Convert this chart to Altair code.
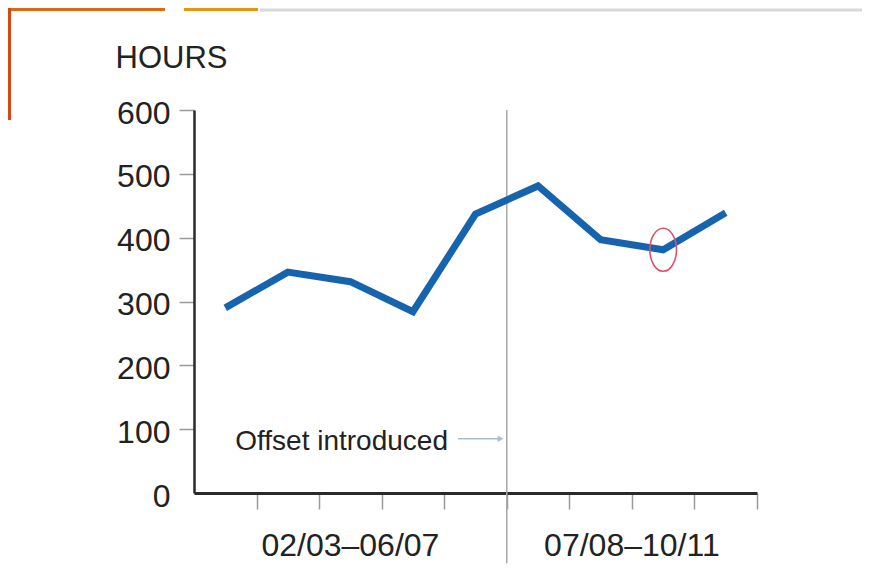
import altair as alt
import pandas as pd

# ---- data ----
years = ["02/03", "03/04", "04/05", "05/06", "06/07", "07/08", "08/09", "09/10", "10/11"]
hours = [290, 346, 331, 284, 437, 481, 397, 381, 439]
y_ticks = [0, 100, 200, 300, 400, 500, 600]
x_tick_positions = [1, 2, 3, 4, 5, 6, 7, 8, 9]
group_labels = ["02/03\u201306/07", "07/08\u201310/11"]
group_start = [0, 5]
group_end = [5, 9]
divider_at = [5]
divider_top = [600]
divider_bottom = [-110]
highlight_year = "09/10"
annotation_text = ["Offset introduced"]
annotation_x = [4.06]
annotation_y = [67]
arrow_y = [85]
arrow_start = [4.22]
arrow_end = [4.9]
group_label_y = [-99]

df = pd.DataFrame({"year": years, "hours": hours, "idx": list(range(len(years)))})
df_hl = df[df["year"] == highlight_year]
df_div = pd.DataFrame({"x": divider_at, "top": divider_top, "bottom": divider_bottom})
df_ann = pd.DataFrame({"text": annotation_text, "x": annotation_x, "y": annotation_y,
                       "ay": arrow_y, "x0": arrow_start, "x1": arrow_end})
df_grp = pd.DataFrame({"label": group_labels, "s": group_start, "e": group_end,
                       "y": group_label_y * 2})

BLUE = "#1764ae"
DARK = "#2a2a2a"
TICK = "#9a9a9a"
FONT = "Liberation Sans"

xscale = alt.Scale(domain=[0, 9], nice=False, zero=False)
yscale = alt.Scale(domain=[0, 600], nice=False)

x_axis = alt.Axis(values=x_tick_positions, labels=False, title=None, grid=False,
                  domainColor=DARK, domainWidth=3, tickColor=TICK, tickWidth=1.5,
                  tickSize=16)
y_axis = alt.Axis(values=y_ticks, title="HOURS", titleAngle=0, titleAlign="left",
                  titleBaseline="alphabetic", titleX=-79, titleY=-43,
                  titleFontSize=31, titleFontWeight="normal", titleFont=FONT,
                  titleColor="#222222", labelFont=FONT, labelFontSize=32,
                  labelColor="#222222", labelPadding=9, labelOffset=3, tickSize=15,
                  tickColor=TICK, tickWidth=1.5,
                  tickOpacity={"condition": {"test": "datum.value === 0", "value": 0}, "value": 1},
                  domainColor=DARK, domainWidth=2.5, grid=False)

base = alt.Chart(df).transform_calculate(pos="datum.idx + 0.5")

line = base.mark_line(color=BLUE, strokeWidth=7, strokeJoin="miter", strokeCap="butt").encode(
    x=alt.X("pos:Q", scale=xscale, axis=x_axis),
    y=alt.Y("hours:Q", scale=yscale, axis=y_axis),
)

ellipse_path = "M -0.62 0 A 0.62 1 0 1 0 0.62 0 A 0.62 1 0 1 0 -0.62 0 Z"
ellipse = alt.Chart(df_hl).transform_calculate(pos="datum.idx + 0.5").mark_point(
    shape=ellipse_path, size=1849, filled=False, stroke="#e05068", strokeWidth=1.6, opacity=1
).encode(x=alt.X("pos:Q", scale=xscale), y=alt.Y("hours:Q", scale=yscale))

divider = alt.Chart(df_div).mark_rule(color="#a8a8a8", strokeWidth=1.5).encode(
    x=alt.X("x:Q", scale=xscale), y=alt.Y("top:Q", scale=yscale), y2="bottom:Q"
)

ann_text = alt.Chart(df_ann).mark_text(
    align="right", baseline="alphabetic", font=FONT, fontSize=28, color="#222222"
).encode(x=alt.X("x:Q", scale=xscale), y=alt.Y("y:Q", scale=yscale), text="text:N")

arrow_line = alt.Chart(df_ann).mark_rule(color="#a9bfcf", strokeWidth=1.5).encode(
    x=alt.X("x0:Q", scale=xscale), x2="x1:Q", y=alt.Y("ay:Q", scale=yscale)
)
arrow_head = alt.Chart(df_ann).mark_point(
    shape="triangle-right", size=45, filled=True, color="#a9bfcf", opacity=1
).encode(x=alt.X("x1:Q", scale=xscale), y=alt.Y("ay:Q", scale=yscale))

grp = alt.Chart(df_grp).transform_calculate(mid="(datum.s + datum.e) / 2").mark_text(
    align="center", baseline="alphabetic", font=FONT, fontSize=32, color="#222222"
).encode(x=alt.X("mid:Q", scale=xscale), y=alt.Y("y:Q", scale=yscale), text="label:N")

# slide decorations (background, not data)
deco_src = alt.Chart(pd.DataFrame({"k": [0]}))
top_band = deco_src.mark_rect(color="#dd6a10").encode(
    x=alt.value(-186), x2=alt.value(-29), y=alt.value(-102), y2=alt.value(-99))
left_band = deco_src.mark_rect(color="#d8470f").encode(
    x=alt.value(-186), x2=alt.value(-183), y=alt.value(-102), y2=alt.value(10))
circ_band = deco_src.mark_rect(color="#e8950e").encode(
    x=alt.value(-10), x2=alt.value(64), y=alt.value(-102), y2=alt.value(-99))
top_line = deco_src.mark_rule(color="#d8d8d8", strokeWidth=3).encode(
    x=alt.value(66), x2=alt.value(676), y=alt.value(-100))

chart = alt.layer(
    top_band, left_band, circ_band, top_line,
    divider, line, ellipse, ann_text, arrow_line, arrow_head, grp
).properties(
    width=563, height=383,
    autosize=alt.AutoSizeParams(type="none"),
    padding={"left": 186, "top": 102, "right": 105, "bottom": 71},
    background="white",
).configure_view(stroke=None)

chart.save("out.html", embed_options={"renderer": "svg", "actions": False})
